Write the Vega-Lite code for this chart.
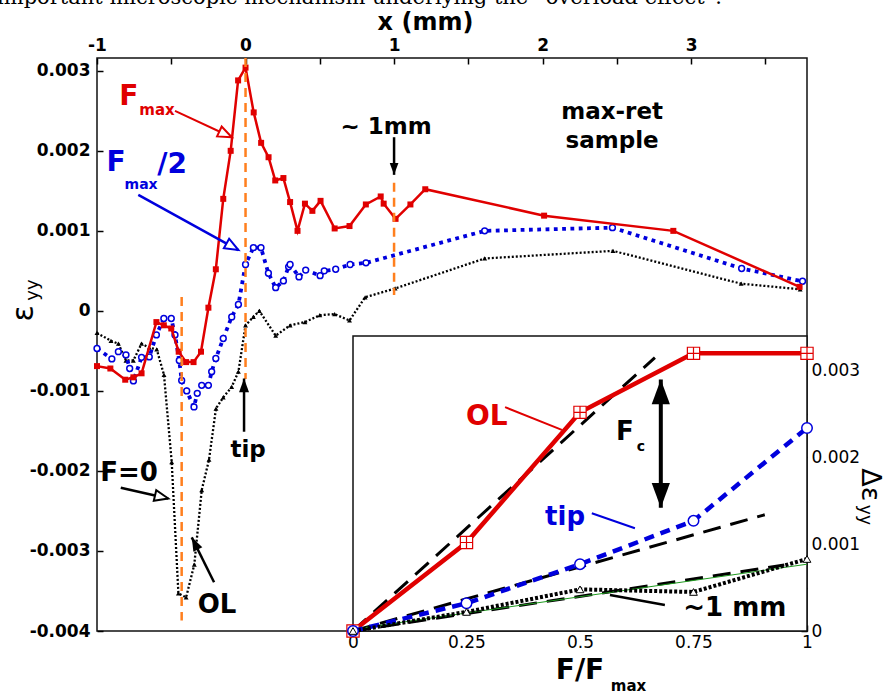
{
  "$schema": "https://vega.github.io/schema/vega-lite/v6.json",
  "width": 710,
  "height": 573,
  "autosize": {"type": "none"},
  "padding": {"left": 97, "top": 58, "right": 81, "bottom": 63},
  "background": "white",
  "datasets": {
    "red": [
      {"x": -1.0, "y": -0.00069}, {"x": -0.91, "y": -0.00072}, {"x": -0.81, "y": -0.00086}, {"x": -0.755, "y": -0.00083},
      {"x": -0.70, "y": -0.00078}, {"x": -0.60, "y": -0.00014}, {"x": -0.55, "y": -0.00018}, {"x": -0.50, "y": -0.00022},
      {"x": -0.45, "y": -0.00051}, {"x": -0.40, "y": -0.00064}, {"x": -0.35, "y": -0.00064}, {"x": -0.30, "y": -0.00051},
      {"x": -0.25, "y": 0.00004}, {"x": -0.20, "y": 0.00052}, {"x": -0.15, "y": 0.0014}, {"x": -0.10, "y": 0.002},
      {"x": -0.05, "y": 0.00288}, {"x": 0.0, "y": 0.00304}, {"x": 0.055, "y": 0.00248}, {"x": 0.105, "y": 0.0021},
      {"x": 0.155, "y": 0.00192}, {"x": 0.20, "y": 0.00163}, {"x": 0.255, "y": 0.00166}, {"x": 0.30, "y": 0.00136},
      {"x": 0.35, "y": 0.001}, {"x": 0.40, "y": 0.00134}, {"x": 0.45, "y": 0.00125}, {"x": 0.505, "y": 0.001375},
      {"x": 0.60, "y": 0.00103}, {"x": 0.70, "y": 0.00106}, {"x": 0.81, "y": 0.00133}, {"x": 0.91, "y": 0.00143},
      {"x": 0.93, "y": 0.00134}, {"x": 1.01, "y": 0.00115}, {"x": 1.11, "y": 0.00133}, {"x": 1.21, "y": 0.00152},
      {"x": 2.01, "y": 0.00119}, {"x": 2.88, "y": 0.001}, {"x": 3.73, "y": 0.0003}
    ],
    "blue": [
      {"x": -1.0, "y": -0.00047}, {"x": -0.90, "y": -0.0006}, {"x": -0.856, "y": -0.00051}, {"x": -0.805, "y": -0.00055},
      {"x": -0.78, "y": -0.00072}, {"x": -0.755, "y": -0.000875}, {"x": -0.70, "y": -0.00058}, {"x": -0.648, "y": -0.000575},
      {"x": -0.60, "y": -0.0003}, {"x": -0.55, "y": -0.000095}, {"x": -0.50, "y": -0.000095}, {"x": -0.475, "y": -0.0003},
      {"x": -0.446, "y": -0.00062}, {"x": -0.43, "y": -0.00087}, {"x": -0.396, "y": -0.001}, {"x": -0.347, "y": -0.0012},
      {"x": -0.325, "y": -0.00103}, {"x": -0.295, "y": -0.00093}, {"x": -0.25, "y": -0.00093}, {"x": -0.228, "y": -0.00076},
      {"x": -0.20, "y": -0.000595}, {"x": -0.15, "y": -0.000345}, {"x": -0.093, "y": -0.000075}, {"x": -0.048, "y": 0.00008},
      {"x": 0.0, "y": 0.00058}, {"x": 0.053, "y": 0.00079}, {"x": 0.104, "y": 0.00079}, {"x": 0.154, "y": 0.00047},
      {"x": 0.203, "y": 0.00029}, {"x": 0.255, "y": 0.000375}, {"x": 0.29, "y": 0.00055}, {"x": 0.30, "y": 0.00058},
      {"x": 0.36, "y": 0.000425}, {"x": 0.405, "y": 0.00051}, {"x": 0.502, "y": 0.00044}, {"x": 0.53, "y": 0.0005},
      {"x": 0.607, "y": 0.00052}, {"x": 0.704, "y": 0.00058}, {"x": 0.811, "y": 0.0006}, {"x": 1.61, "y": 0.001},
      {"x": 2.47, "y": 0.00104}, {"x": 3.34, "y": 0.00053}, {"x": 3.75, "y": 0.00037}
    ],
    "black": [
      {"x": -1.0, "y": -0.000275}, {"x": -0.906, "y": -0.000375}, {"x": -0.856, "y": -0.00041}, {"x": -0.805, "y": -0.00062},
      {"x": -0.755, "y": -0.00062}, {"x": -0.70, "y": -0.00041}, {"x": -0.648, "y": -0.00046}, {"x": -0.598, "y": -0.00048},
      {"x": -0.549, "y": -0.0008}, {"x": -0.497, "y": -0.00189}, {"x": -0.452, "y": -0.00353}, {"x": -0.40, "y": -0.00358},
      {"x": -0.345, "y": -0.00317}, {"x": -0.295, "y": -0.00224}, {"x": -0.246, "y": -0.00186}, {"x": -0.199, "y": -0.00122},
      {"x": -0.15, "y": -0.00108}, {"x": -0.093, "y": -0.00095}, {"x": -0.048, "y": -0.00076}, {"x": 0.0, "y": -0.00018},
      {"x": 0.053, "y": -0.000075}, {"x": 0.093, "y": 0.0}, {"x": 0.203, "y": -0.00031}, {"x": 0.30, "y": -0.00018},
      {"x": 0.40, "y": -0.00014}, {"x": 0.50, "y": -0.000054}, {"x": 0.60, "y": -0.00004}, {"x": 0.70, "y": -0.00012},
      {"x": 0.805, "y": 0.00017}, {"x": 1.007, "y": 0.00028}, {"x": 1.61, "y": 0.000655}, {"x": 2.474, "y": 0.00075},
      {"x": 3.337, "y": 0.00034}, {"x": 3.734, "y": 0.00027}
    ],
    "vlines": [
      {"x": -0.43, "y": 0.000175, "y2": -0.00387},
      {"x": 0.0, "y": 0.00316, "y2": -0.00085},
      {"x": 1.0, "y": 0.0016, "y2": 0.0002}
    ],
    "marrows": [
      {"id": "Fmax", "x": -0.475, "y": 0.0025, "x2": -0.093, "y2": 0.00217},
      {"id": "Fmax2", "x": -0.722, "y": 0.00145, "x2": -0.048, "y2": 0.00076},
      {"id": "F0", "x": -0.84, "y": -0.00221, "x2": -0.52, "y2": -0.002345},
      {"id": "OL", "x": -0.212, "y": -0.00339, "x2": -0.362, "y2": -0.00283},
      {"id": "tip", "x": -0.01, "y": -0.00151, "x2": -0.01, "y2": -0.000845},
      {"id": "mm", "x": 1.0, "y": 0.00217, "x2": 1.0, "y2": 0.0017}
    ],
    "mheads": [
      {"id": "Fmax", "x": -0.093, "y": 0.00217},
      {"id": "Fmax2", "x": -0.048, "y": 0.00076},
      {"id": "F0", "x": -0.52, "y": -0.002345},
      {"id": "OL", "x": -0.362, "y": -0.00283},
      {"id": "tip", "x": -0.01, "y": -0.000845},
      {"id": "mm", "x": 1.0, "y": 0.0017}
    ],
    "mtext": [
      {"id": "rF", "label": "F", "x": -0.785, "y": 0.00267},
      {"id": "rmax", "label": "max", "x": -0.596, "y": 0.00251},
      {"id": "bF", "label": "F", "x": -0.872, "y": 0.001846},
      {"id": "bmax", "label": "max", "x": -0.703, "y": 0.00157},
      {"id": "b2", "label": "/2", "x": -0.495, "y": 0.001821},
      {"id": "note", "label": "~ 1mm", "x": 0.946, "y": 0.0023},
      {"id": "note", "label": "max-ret", "x": 2.468, "y": 0.00248},
      {"id": "note", "label": "sample", "x": 2.468, "y": 0.00212},
      {"id": "note", "label": "tip", "x": 0.017, "y": -0.00174},
      {"id": "big", "label": "F=0", "x": -0.784, "y": -0.00202},
      {"id": "big", "label": "OL", "x": -0.192, "y": -0.00367},
      {"id": "eps", "label": "ε", "x": -1.492, "y": -0.00003},
      {"id": "yy", "label": "yy", "x": -1.431, "y": 0.00026},
      {"id": "top", "label": "important microscopic mechanism underlying the “overload effect”.", "x": -1.673, "y": 0.003834}
    ],
    "frame": [{"x": 0, "x2": 1, "y": 0, "y2": 0.0034}],
    "fits": [
      {"id": "fit", "x": 0, "y": 0, "x2": 0.665, "y2": 0.00315},
      {"id": "fit", "x": 0, "y": 0, "x2": 0.907, "y2": 0.00134},
      {"id": "fit", "x": 0, "y": 0, "x2": 0.95, "y2": 0.00076},
      {"id": "green", "x": 0, "y": 0.00002, "x2": 1, "y2": 0.00077}
    ],
    "ol": [{"x": 0, "y": 0}, {"x": 0.25, "y": 0.00102}, {"x": 0.5, "y": 0.00252}, {"x": 0.75, "y": 0.0032}, {"x": 1, "y": 0.0032}],
    "tip": [{"x": 0, "y": 0}, {"x": 0.25, "y": 0.00032}, {"x": 0.5, "y": 0.00077}, {"x": 0.75, "y": 0.00127}, {"x": 1, "y": 0.00234}],
    "mm1": [{"x": 0, "y": 0}, {"x": 0.25, "y": 0.00022}, {"x": 0.5, "y": 0.00048}, {"x": 0.75, "y": 0.00045}, {"x": 1, "y": 0.00083}],
    "iarrows": [
      {"id": "OLlead", "x": 0.335, "y": 0.00258, "x2": 0.46, "y2": 0.002318},
      {"id": "tiplead", "x": 0.526, "y": 0.001357, "x2": 0.621, "y2": 0.001185},
      {"id": "mmlead", "x": 0.566, "y": 0.000415, "x2": 0.687, "y2": 0.0003},
      {"id": "Fc", "x": 0.678, "y": 0.0029, "x2": 0.678, "y2": 0.00142}
    ],
    "iheads": [
      {"id": "up", "x": 0.678, "y": 0.0029},
      {"id": "down", "x": 0.678, "y": 0.00142}
    ],
    "itext": [
      {"id": "OL", "label": "OL", "x": 0.2945, "y": 0.002472},
      {"id": "tip", "label": "tip", "x": 0.467, "y": 0.001309},
      {"id": "big", "label": "F", "x": 0.599, "y": 0.00229},
      {"id": "small", "label": "c", "x": 0.634, "y": 0.00212},
      {"id": "big", "label": "~1 mm", "x": 0.841, "y": 0.000265},
      {"id": "ff", "label": "F/F", "x": 0.5, "y": -0.00046},
      {"id": "sub", "label": "max", "x": 0.607, "y": -0.00063},
      {"id": "de", "label": "Δε", "x": 1.138, "y": 0.001684},
      {"id": "dyy", "label": "yy", "x": 1.127, "y": 0.001338}
    ]
  },
  "layer": [
    {
      "encoding": {
        "x": {"field": "x", "type": "quantitative",
          "scale": {"domain": [-1, 3.78], "nice": false, "zero": false},
          "axis": {"orient": "top", "values": [-1, -0.5, 0, 0.5, 1, 1.5, 2, 2.5, 3, 3.5],
            "labelExpr": "datum.value % 1 === 0 ? (datum.value < 0 ? '-' + format(-datum.value, 'd') : format(datum.value, 'd')) : ''",
            "tickSize": -6, "labelPadding": 10, "labelFontSize": 17, "labelFontWeight": "bold",
            "title": "x (mm)", "titleFontSize": 24, "titleFontWeight": "bold", "titleX": 328, "titleY": -36,
            "titleBaseline": "middle", "titleAlign": "center"}},
        "y": {"field": "y", "type": "quantitative",
          "scale": {"domain": [-0.004, 0.00316], "nice": false, "zero": false},
          "axis": {"orient": "left", "values": [-0.004, -0.003, -0.002, -0.001, 0, 0.001, 0.002, 0.003],
            "labelExpr": "datum.value === 0 ? '0' : (datum.value < 0 ? '-' + format(-datum.value, '.3f') : format(datum.value, '.3f'))",
            "tickSize": -6, "labelPadding": 13, "labelFontSize": 17, "labelFontWeight": "bold", "title": null}}
      },
      "layer": [
        {"data": {"name": "black"}, "mark": {"type": "line", "color": "#000000", "strokeWidth": 2.3, "strokeDash": [2, 2]}},
        {"data": {"name": "black"}, "mark": {"type": "point", "shape": "triangle-up", "filled": true, "color": "#000000", "size": 24, "opacity": 1}},
        {"data": {"name": "blue"}, "mark": {"type": "line", "color": "#0000dd", "strokeWidth": 3.8, "strokeDash": [3.8, 4.5]}},
        {"data": {"name": "blue"}, "mark": {"type": "point", "shape": "circle", "filled": true, "fill": "white", "stroke": "#0000dd", "strokeWidth": 1.5, "size": 34, "opacity": 1}},
        {"data": {"name": "red"}, "mark": {"type": "line", "color": "#e00000", "strokeWidth": 2.5}},
        {"data": {"name": "red"}, "mark": {"type": "point", "shape": "square", "filled": true, "color": "#e00000", "size": 36, "opacity": 1}},
        {"data": {"name": "vlines"}, "mark": {"type": "rule", "color": "#ff7f1e", "strokeWidth": 2.5, "strokeDash": [9, 6]}, "encoding": {"y2": {"field": "y2"}}},
        {"data": {"name": "marrows"}, "transform": [{"filter": "datum.id === 'Fmax'"}], "mark": {"type": "rule", "color": "#e00000", "strokeWidth": 2}, "encoding": {"x2": {"field": "x2"}, "y2": {"field": "y2"}}},
        {"data": {"name": "marrows"}, "transform": [{"filter": "datum.id === 'Fmax2'"}], "mark": {"type": "rule", "color": "#0000dd", "strokeWidth": 2.5}, "encoding": {"x2": {"field": "x2"}, "y2": {"field": "y2"}}},
        {"data": {"name": "marrows"}, "transform": [{"filter": {"field": "id", "oneOf": ["F0", "OL", "tip", "mm"]}}], "mark": {"type": "rule", "color": "#000000", "strokeWidth": 2.5}, "encoding": {"x2": {"field": "x2"}, "y2": {"field": "y2"}}},
        {"data": {"name": "mheads"}, "transform": [{"filter": "datum.id === 'Fmax'"}], "mark": {"type": "point", "shape": "M0,0L0.6,1.5L-0.6,1.5Z", "angle": 115, "size": 330, "filled": true, "fill": "white", "stroke": "#e00000", "strokeWidth": 2, "opacity": 1}},
        {"data": {"name": "mheads"}, "transform": [{"filter": "datum.id === 'Fmax2'"}], "mark": {"type": "point", "shape": "M0,0L0.6,1.5L-0.6,1.5Z", "angle": 119, "size": 330, "filled": true, "fill": "white", "stroke": "#0000dd", "strokeWidth": 2, "opacity": 1}},
        {"data": {"name": "mheads"}, "transform": [{"filter": "datum.id === 'F0'"}], "mark": {"type": "point", "shape": "M0,0L0.6,1.5L-0.6,1.5Z", "angle": 103, "size": 330, "filled": true, "fill": "white", "stroke": "#000000", "strokeWidth": 2, "opacity": 1}},
        {"data": {"name": "mheads"}, "transform": [{"filter": "datum.id === 'OL'"}], "mark": {"type": "point", "shape": "M0,0L0.55,1.5L-0.55,1.5Z", "angle": -26.5, "size": 330, "filled": true, "color": "#000000", "opacity": 1}},
        {"data": {"name": "mheads"}, "transform": [{"filter": "datum.id === 'tip'"}], "mark": {"type": "point", "shape": "M0,0L0.55,1.5L-0.55,1.5Z", "angle": 0, "size": 330, "filled": true, "color": "#000000", "opacity": 1}},
        {"data": {"name": "mheads"}, "transform": [{"filter": "datum.id === 'mm'"}], "mark": {"type": "point", "shape": "M0,0L0.55,1.5L-0.55,1.5Z", "angle": 180, "size": 250, "filled": true, "color": "#000000", "opacity": 1}},
        {"data": {"name": "mtext"}, "transform": [{"filter": "datum.id === 'rF'"}], "mark": {"type": "text", "font": "DejaVu Sans", "fontWeight": "bold", "fontSize": 28, "color": "#e00000", "align": "center", "baseline": "middle"}, "encoding": {"text": {"field": "label"}}},
        {"data": {"name": "mtext"}, "transform": [{"filter": "datum.id === 'rmax'"}], "mark": {"type": "text", "font": "DejaVu Sans", "fontWeight": "bold", "fontSize": 15, "color": "#e00000", "align": "center", "baseline": "middle"}, "encoding": {"text": {"field": "label"}}},
        {"data": {"name": "mtext"}, "transform": [{"filter": {"field": "id", "oneOf": ["bF", "b2"]}}], "mark": {"type": "text", "font": "DejaVu Sans", "fontWeight": "bold", "fontSize": 28, "color": "#0000dd", "align": "center", "baseline": "middle"}, "encoding": {"text": {"field": "label"}}},
        {"data": {"name": "mtext"}, "transform": [{"filter": "datum.id === 'bmax'"}], "mark": {"type": "text", "font": "DejaVu Sans", "fontWeight": "bold", "fontSize": 14, "color": "#0000dd", "align": "center", "baseline": "middle"}, "encoding": {"text": {"field": "label"}}},
        {"data": {"name": "mtext"}, "transform": [{"filter": "datum.id === 'note'"}], "mark": {"type": "text", "font": "DejaVu Sans", "fontWeight": "bold", "fontSize": 23, "color": "#000000", "align": "center", "baseline": "middle"}, "encoding": {"text": {"field": "label"}}},
        {"data": {"name": "mtext"}, "transform": [{"filter": "datum.id === 'big'"}], "mark": {"type": "text", "font": "DejaVu Sans", "fontWeight": "bold", "fontSize": 26, "color": "#000000", "align": "center", "baseline": "middle"}, "encoding": {"text": {"field": "label"}}},
        {"data": {"name": "mtext"}, "transform": [{"filter": "datum.id === 'eps'"}], "mark": {"type": "text", "font": "DejaVu Sans", "fontSize": 30, "angle": 270, "color": "#000000", "align": "center", "baseline": "middle"}, "encoding": {"text": {"field": "label"}}},
        {"data": {"name": "mtext"}, "transform": [{"filter": "datum.id === 'yy'"}], "mark": {"type": "text", "font": "DejaVu Sans", "fontSize": 18, "angle": 270, "color": "#000000", "align": "center", "baseline": "middle"}, "encoding": {"text": {"field": "label"}}},
        {"data": {"name": "mtext"}, "transform": [{"filter": "datum.id === 'top'"}], "mark": {"type": "text", "font": "DejaVu Serif", "fontSize": 21, "color": "#000000", "align": "left", "baseline": "alphabetic"}, "encoding": {"text": {"field": "label"}}}
      ]
    },
    {
      "encoding": {
        "x": {"field": "x", "type": "quantitative",
          "scale": {"domain": [-0.5639, 1], "nice": false, "zero": false},
          "axis": {"orient": "bottom", "values": [0, 0.25, 0.5, 0.75, 1],
            "labelExpr": "format(datum.value, '~g')",
            "tickSize": -6, "labelPadding": 9, "labelFontSize": 17, "labelFontWeight": "normal", "title": null}},
        "y": {"field": "y", "type": "quantitative",
          "scale": {"domain": [0, 0.006604], "nice": false, "zero": false},
          "axis": {"orient": "right", "values": [0, 0.0005, 0.001, 0.0015, 0.002, 0.0025, 0.003],
            "labelExpr": "datum.value === 0 ? '0' : (round(datum.value * 10000) % 10 === 0 ? format(datum.value, '.3f') : '')",
            "tickSize": -6, "labelPadding": 10, "labelFontSize": 17, "labelFontWeight": "normal", "title": null}}
      },
      "layer": [
        {"data": {"name": "frame"}, "mark": {"type": "rect", "fill": "white", "stroke": "#111111", "strokeWidth": 1.5}, "encoding": {"x2": {"field": "x2"}, "y2": {"field": "y2"}}},
        {"data": {"name": "fits"}, "transform": [{"filter": "datum.id === 'fit'"}], "mark": {"type": "rule", "color": "#000000", "strokeWidth": 3, "strokeDash": [18, 10]}, "encoding": {"x2": {"field": "x2"}, "y2": {"field": "y2"}}},
        {"data": {"name": "fits"}, "transform": [{"filter": "datum.id === 'green'"}], "mark": {"type": "rule", "color": "#1f9a1f", "strokeWidth": 1}, "encoding": {"x2": {"field": "x2"}, "y2": {"field": "y2"}}},
        {"data": {"name": "ol"}, "mark": {"type": "line", "color": "#e00000", "strokeWidth": 4.5}},
        {"data": {"name": "ol"}, "mark": {"type": "point", "shape": "M-1,-1H1V1H-1Z M0,-1V1 M-1,0H1", "filled": true, "fill": "white", "stroke": "#e00000", "strokeWidth": 1.2, "size": 150, "opacity": 1}},
        {"data": {"name": "tip"}, "mark": {"type": "line", "color": "#0000dd", "strokeWidth": 4.5, "strokeDash": [10, 7]}},
        {"data": {"name": "mm1"}, "mark": {"type": "line", "color": "#000000", "strokeWidth": 4, "strokeDash": [3, 2]}},
        {"data": {"name": "tip"}, "mark": {"type": "point", "shape": "circle", "filled": true, "fill": "white", "stroke": "#0000dd", "strokeWidth": 1.5, "size": 110, "opacity": 1}},
        {"data": {"name": "mm1"}, "mark": {"type": "point", "shape": "triangle-up", "filled": true, "fill": "white", "stroke": "#000000", "strokeWidth": 1, "size": 60, "opacity": 1}},
        {"data": {"name": "iarrows"}, "transform": [{"filter": "datum.id === 'OLlead'"}], "mark": {"type": "rule", "color": "#e00000", "strokeWidth": 2}, "encoding": {"x2": {"field": "x2"}, "y2": {"field": "y2"}}},
        {"data": {"name": "iarrows"}, "transform": [{"filter": "datum.id === 'tiplead'"}], "mark": {"type": "rule", "color": "#0000dd", "strokeWidth": 2}, "encoding": {"x2": {"field": "x2"}, "y2": {"field": "y2"}}},
        {"data": {"name": "iarrows"}, "transform": [{"filter": "datum.id === 'mmlead'"}], "mark": {"type": "rule", "color": "#000000", "strokeWidth": 2.5}, "encoding": {"x2": {"field": "x2"}, "y2": {"field": "y2"}}},
        {"data": {"name": "iarrows"}, "transform": [{"filter": "datum.id === 'Fc'"}], "mark": {"type": "rule", "color": "#000000", "strokeWidth": 4}, "encoding": {"x2": {"field": "x2"}, "y2": {"field": "y2"}}},
        {"data": {"name": "iheads"}, "transform": [{"filter": "datum.id === 'up'"}], "mark": {"type": "point", "shape": "M0,0L0.55,1.5L-0.55,1.5Z", "angle": 0, "size": 1100, "filled": true, "color": "#000000", "opacity": 1}},
        {"data": {"name": "iheads"}, "transform": [{"filter": "datum.id === 'down'"}], "mark": {"type": "point", "shape": "M0,0L0.55,1.5L-0.55,1.5Z", "angle": 180, "size": 1100, "filled": true, "color": "#000000", "opacity": 1}},
        {"data": {"name": "itext"}, "transform": [{"filter": "datum.id === 'OL'"}], "mark": {"type": "text", "font": "DejaVu Sans", "fontWeight": "bold", "fontSize": 28, "color": "#e00000", "align": "center", "baseline": "middle"}, "encoding": {"text": {"field": "label"}}},
        {"data": {"name": "itext"}, "transform": [{"filter": "datum.id === 'tip'"}], "mark": {"type": "text", "font": "DejaVu Sans", "fontWeight": "bold", "fontSize": 26, "color": "#0000dd", "align": "center", "baseline": "middle"}, "encoding": {"text": {"field": "label"}}},
        {"data": {"name": "itext"}, "transform": [{"filter": "datum.id === 'big'"}], "mark": {"type": "text", "font": "DejaVu Sans", "fontWeight": "bold", "fontSize": 26, "color": "#000000", "align": "center", "baseline": "middle"}, "encoding": {"text": {"field": "label"}}},
        {"data": {"name": "itext"}, "transform": [{"filter": "datum.id === 'small'"}], "mark": {"type": "text", "font": "DejaVu Sans", "fontWeight": "bold", "fontSize": 14, "color": "#000000", "align": "center", "baseline": "middle"}, "encoding": {"text": {"field": "label"}}},
        {"data": {"name": "itext"}, "transform": [{"filter": "datum.id === 'ff'"}], "mark": {"type": "text", "font": "DejaVu Sans", "fontWeight": "bold", "fontSize": 28, "color": "#000000", "align": "center", "baseline": "middle"}, "encoding": {"text": {"field": "label"}}},
        {"data": {"name": "itext"}, "transform": [{"filter": "datum.id === 'sub'"}], "mark": {"type": "text", "font": "DejaVu Sans", "fontWeight": "bold", "fontSize": 15, "color": "#000000", "align": "center", "baseline": "middle"}, "encoding": {"text": {"field": "label"}}},
        {"data": {"name": "itext"}, "transform": [{"filter": "datum.id === 'de'"}], "mark": {"type": "text", "font": "DejaVu Sans", "fontSize": 27, "angle": 90, "color": "#000000", "align": "center", "baseline": "middle"}, "encoding": {"text": {"field": "label"}}},
        {"data": {"name": "itext"}, "transform": [{"filter": "datum.id === 'dyy'"}], "mark": {"type": "text", "font": "DejaVu Sans", "fontSize": 17, "angle": 90, "color": "#000000", "align": "center", "baseline": "middle"}, "encoding": {"text": {"field": "label"}}}
      ]
    }
  ],
  "resolve": {"scale": {"x": "independent", "y": "independent"}, "axis": {"x": "independent", "y": "independent"}},
  "config": {
    "view": {"stroke": "#111111", "strokeWidth": 1.5},
    "axis": {"grid": false, "domain": false, "labelFont": "DejaVu Sans", "titleFont": "DejaVu Sans", "tickColor": "#000000", "labelColor": "#000000", "titleColor": "#000000", "tickWidth": 1.5, "labelFlush": false, "labelOverlap": false}
  }
}
